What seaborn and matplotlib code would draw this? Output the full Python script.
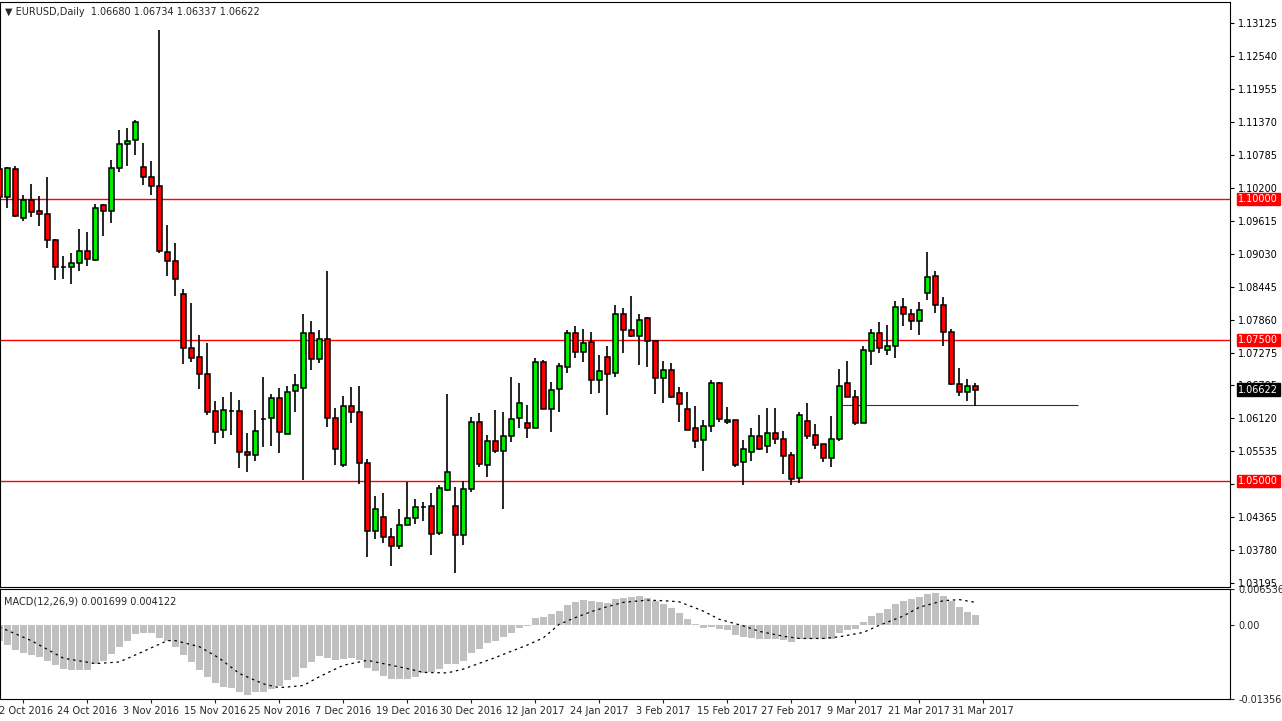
import numpy as np
import pandas as pd
import matplotlib
matplotlib.use("Agg")
import matplotlib.pyplot as plt
import seaborn as sns

sns.set_style("white")
plt.rcParams['font.family'] = ['DejaVu Sans']

opens = [1.10532,1.10035,1.10532,1.09663,1.09982,1.09787,1.09734,1.09273,1.08794,1.08794,
 1.08865,1.09078,1.08918,1.09894,1.09787,1.10550,1.10975,1.11046,1.10567,1.10390,
 1.10230,1.09060,1.08901,1.08316,1.07358,1.07199,1.06897,1.06241,1.05904,1.06245,
 1.06241,1.05514,1.05461,1.06105,1.06117,1.06472,1.05834,1.06596,1.06649,1.07624,
 1.07163,1.07518,1.06117,1.05284,1.06330,1.06224,1.05319,1.04114,1.04362,1.04007,
 1.03848,1.04220,1.04344,1.04545,1.04557,1.04078,1.04841,1.04557,1.04043,1.04858,
 1.06046,1.05284,1.05709,1.05532,1.05798,1.06117,1.06028,1.05940,1.07110,1.06277,
 1.06631,1.07021,1.07624,1.07287,1.07465,1.06791,1.07199,1.06915,1.07961,1.07677,
 1.07571,1.07890,1.07482,1.06826,1.06968,1.06560,1.06277,1.05940,1.05727,1.05975,
 1.06738,1.06046,1.06082,1.05337,1.05514,1.05798,1.05621,1.05851,1.05745,1.05461,
 1.05053,1.06064,1.05816,1.05656,1.05408,1.05745,1.06738,1.06489,1.06028,1.07305,
 1.07624,1.07323,1.07394,1.08085,1.07961,1.07837,1.08333,1.08635,1.08121,1.07642,
 1.06720,1.06578,1.06680]
highs = [1.10603,1.10567,1.10585,1.10071,1.10266,1.10053,1.10390,1.09291,1.08989,1.09043,
 1.09468,1.09415,1.09911,1.09911,1.10691,1.11223,1.11259,1.11401,1.10993,1.10674,
 1.12996,1.09539,1.09220,1.08404,1.08156,1.07589,1.07447,1.06419,1.06489,1.06578,
 1.06436,1.05851,1.06259,1.06844,1.06543,1.06649,1.06684,1.06897,1.07961,1.07837,
 1.07677,1.08723,1.06294,1.06507,1.06667,1.06684,1.05390,1.04734,1.04787,1.04167,
 1.04504,1.04982,1.04681,1.04628,1.04787,1.04929,1.06543,1.04894,1.05000,1.06135,
 1.06206,1.05816,1.06259,1.06224,1.06844,1.06738,1.06348,1.07181,1.07145,1.06755,
 1.07092,1.07677,1.07748,1.07695,1.07642,1.07234,1.07394,1.08121,1.08067,1.08280,
 1.07961,1.07908,1.07482,1.07128,1.07092,1.06667,1.06578,1.06330,1.06082,1.06791,
 1.06755,1.06312,1.06082,1.05727,1.05940,1.06170,1.06294,1.06294,1.05887,1.05514,
 1.06224,1.06383,1.06011,1.05656,1.06152,1.06986,1.07128,1.06614,1.07394,1.07695,
 1.07819,1.07766,1.08192,1.08245,1.08050,1.08174,1.09060,1.08723,1.08262,1.07695,
 1.07004,1.06809,1.06734]
lows = [1.09982,1.09840,1.09681,1.09610,1.09681,1.09521,1.09131,1.08564,1.08582,1.08493,
 1.08723,1.08812,1.08901,1.09344,1.09574,1.10479,1.10585,1.10780,1.10248,1.10071,
 1.09043,1.08635,1.08280,1.07075,1.07110,1.06631,1.06170,1.05656,1.05763,1.05816,
 1.05231,1.05160,1.05355,1.05603,1.05621,1.05497,1.05834,1.06224,1.05018,1.06968,
 1.07092,1.05958,1.05284,1.05248,1.06028,1.04947,1.03653,1.03972,1.03901,1.03493,
 1.03795,1.04220,1.04238,1.04291,1.03688,1.04043,1.04823,1.03369,1.03865,1.04805,
 1.05248,1.05071,1.05497,1.04504,1.05692,1.05940,1.05763,1.05940,1.06277,1.05869,
 1.06224,1.06915,1.07181,1.07110,1.06543,1.06560,1.06170,1.06844,1.07270,1.07553,
 1.07057,1.07021,1.06543,1.06383,1.06472,1.06046,1.05904,1.05585,1.05177,1.05869,
 1.06046,1.06011,1.05248,1.04929,1.05355,1.05550,1.05497,1.05656,1.05124,1.04929,
 1.04965,1.05745,1.05568,1.05337,1.05248,1.05709,1.06489,1.05993,1.06028,1.07057,
 1.07270,1.07234,1.07181,1.07748,1.07677,1.07589,1.08209,1.07979,1.07394,1.06702,
 1.06507,1.06419,1.06337]
closes = [1.10035,1.10550,1.09699,1.09982,1.09770,1.09734,1.09273,1.08794,1.08800,1.08865,
 1.09078,1.08936,1.09840,1.09787,1.10550,1.10975,1.11028,1.11365,1.10390,1.10230,
 1.09078,1.08901,1.08582,1.07358,1.07181,1.06897,1.06224,1.05869,1.06259,1.06241,
 1.05514,1.05461,1.05887,1.06099,1.06472,1.05869,1.06578,1.06702,1.07624,1.07163,
 1.07518,1.06117,1.05568,1.06330,1.06224,1.05319,1.04114,1.04504,1.04007,1.03848,
 1.04220,1.04344,1.04539,1.04539,1.04060,1.04876,1.05160,1.04043,1.04858,1.06046,
 1.05302,1.05709,1.05532,1.05798,1.06099,1.06383,1.05940,1.07110,1.06277,1.06614,
 1.07039,1.07624,1.07287,1.07447,1.06791,1.06950,1.06897,1.07961,1.07677,1.07571,
 1.07855,1.07482,1.06826,1.06968,1.06489,1.06365,1.05904,1.05709,1.05975,1.06738,
 1.06099,1.06082,1.05284,1.05568,1.05798,1.05568,1.05851,1.05745,1.05443,1.05036,
 1.06170,1.05798,1.05638,1.05408,1.05745,1.06684,1.06489,1.06028,1.07323,1.07624,
 1.07358,1.07394,1.08085,1.07961,1.07837,1.08032,1.08617,1.08121,1.07642,1.06720,
 1.06578,1.06684,1.06622]

macd_hist = [-0.00304,-0.00366,-0.00465,-0.00515,-0.00558,-0.00595,-0.00663,-0.00744,-0.00800,-0.00818,
 -0.00818,-0.00818,-0.00719,-0.00663,-0.00539,-0.00409,-0.00298,-0.00167,-0.00143,-0.00143,
 -0.00236,-0.00298,-0.00409,-0.00558,-0.00682,-0.00818,-0.00949,-0.01073,-0.01135,-0.01153,
 -0.01228,-0.01283,-0.01228,-0.01228,-0.01172,-0.01116,-0.01017,-0.00949,-0.00781,-0.00688,
 -0.00577,-0.00614,-0.00645,-0.00632,-0.00614,-0.00651,-0.00781,-0.00849,-0.00930,-0.00986,
 -0.00986,-0.00986,-0.00949,-0.00874,-0.00868,-0.00812,-0.00725,-0.00725,-0.00670,-0.00521,
 -0.00446,-0.00335,-0.00298,-0.00223,-0.00143,-0.00056,-0.00019,0.00130,0.00149,0.00205,
 0.00260,0.00353,0.00409,0.00446,0.00428,0.00409,0.00391,0.00465,0.00484,0.00502,
 0.00521,0.00496,0.00428,0.00372,0.00298,0.00223,0.00112,0.00019,-0.00056,-0.00037,
 -0.00074,-0.00093,-0.00186,-0.00223,-0.00242,-0.00260,-0.00260,-0.00260,-0.00279,-0.00316,
 -0.00260,-0.00260,-0.00260,-0.00260,-0.00260,-0.00149,-0.00093,-0.00074,0.00056,0.00167,
 0.00223,0.00279,0.00372,0.00428,0.00465,0.00502,0.00558,0.00577,0.00521,0.00428,
 0.00316,0.00242,0.00170]

signal_idx = [0,4,8,12,15,17.5,21,22,25,27.5,30,33,35,38,40,43,46,48,51,53,56,58,61.8,
 66,68,70,72,74,76,78,81,83,85,88,90,93,95,98,100,103,105,108,110,113,115,118,120,122]
signal_val = [-0.0004,-0.0029,-0.0061,-0.0071,-0.0068,-0.0052,-0.0029,-0.0029,-0.0040,-0.0061,
 -0.0089,-0.0108,-0.0115,-0.0111,-0.0095,-0.0074,-0.0065,-0.0071,-0.0080,-0.0087,-0.0088,
 -0.0081,-0.0061,-0.0037,-0.0024,0.0001,0.0013,0.0024,0.0033,0.0041,0.0045,0.0044,0.0042,
 0.0025,0.0010,-0.0002,-0.0012,-0.0021,-0.0025,-0.0025,-0.0022,-0.0014,-0.0001,0.0016,
 0.0032,0.0044,0.0046,0.0041]

date_labels = ["12 Oct 2016","24 Oct 2016","3 Nov 2016","15 Nov 2016","25 Nov 2016","7 Dec 2016",
 "19 Dec 2016","30 Dec 2016","12 Jan 2017","24 Jan 2017","3 Feb 2017","15 Feb 2017",
 "27 Feb 2017","9 Mar 2017","21 Mar 2017","31 Mar 2017"]
date_idx = [3 + 8*k for k in range(16)]

price_ticks = [1.13125,1.12540,1.11955,1.11370,1.10785,1.10200,1.09615,1.09030,1.08445,1.07860,
 1.07275,1.06705,1.06120,1.05535,1.04950,1.04365,1.03780,1.03195]
levels = [1.10000, 1.07500, 1.05000]
support_level = 1.0635
support_from, support_to = 105.1, 134.8

W, H = 1282, 721
fig = plt.figure(figsize=(W/100, H/100), dpi=100, facecolor='white')
ax = fig.add_axes([0, 1-587/H, 1230/W, 585/H])
axm = fig.add_axes([0, 1-699/H, 1230/W, 110/H])

df = pd.DataFrame(dict(o=opens, h=highs, l=lows, c=closes))
df['i'] = np.arange(len(df))
up = df['c'] >= df['o']

for lv in levels:
    ax.axhline(lv, color='#ff0000', lw=1, zorder=1)
ax.hlines(support_level, support_from, support_to, color='#333333', lw=0.8, zorder=1)

ax.vlines(df['i'], df['l'], df['h'], color='black', lw=1.2, zorder=2)
bott = np.minimum(df['o'], df['c'])
hgt = np.maximum(np.abs(df['c'] - df['o']), 0.00006)
ax.bar(df['i'], hgt, bottom=bott, width=0.62,
       color=np.where(up, '#00ee00', '#ff0000'), edgecolor='black', linewidth=1.1, zorder=3)

xmin, xmax = 0.0875, 153.84
ax.set_xlim(xmin, xmax)
ax.set_ylim(1.03121, 1.13493)
ax.yaxis.tick_right()
ax.set_yticks(price_ticks)
ax.set_yticklabels([f"{t:.5f}" for t in price_ticks], fontsize=7)
ax.tick_params(axis='y', length=3, pad=3, right=True, direction='out', colors='black')
ax.set_xticks([])
for s in ax.spines.values():
    s.set_color('black'); s.set_linewidth(0.8)

def tag(a, y, txt, bg):
    a.annotate(txt, xy=(1.0, y), xycoords=('axes fraction', 'data'), xytext=(6, 0),
               textcoords='offset points', va='center', ha='left', fontsize=7, color='white',
               bbox=dict(boxstyle='square,pad=0.15', fc=bg, ec=bg), annotation_clip=False)
for lv in levels:
    tag(ax, lv, f"{lv:.5f}", '#ff0000')
tag(ax, closes[-1], f"{closes[-1]:.5f}", 'black')

ax.text(0.004, 0.991, "\u25BC EURUSD,Daily  %.5f %.5f %.5f %.5f" % (opens[-1], highs[-1], lows[-1], closes[-1]),
        transform=ax.transAxes, fontsize=7, va='top', ha='left')

mdf = pd.DataFrame(dict(i=np.arange(len(macd_hist)), v=macd_hist))
sns.barplot(data=mdf, x='i', y='v', native_scale=True, color='#c0c0c0', saturation=1,
            width=0.82, ax=axm, edgecolor='none', linewidth=0)
axm.plot(signal_idx, signal_val, color='black', lw=0.9, ls=(0, (2, 3)))
axm.set_xlim(xmin, xmax)
axm.set_ylim(-0.013566, 0.006536)
axm.set_xlabel(''); axm.set_ylabel('')
axm.yaxis.tick_right()
axm.set_yticks([0.006536, 0.0, -0.013566])
axm.set_yticklabels(['0.006536', '0.00', '-0.013566'], fontsize=7)
axm.tick_params(axis='y', length=3, pad=3, right=True, direction='out')
axm.set_xticks(date_idx)
axm.set_xticklabels(date_labels, fontsize=7)
axm.tick_params(axis='x', length=3, pad=2, bottom=True, direction='out')
for s in axm.spines.values():
    s.set_color('black'); s.set_linewidth(0.8)
axm.text(0.003, 0.93, "MACD(12,26,9) 0.001699 0.004122", transform=axm.transAxes,
         fontsize=7, va='top', ha='left')

fig.savefig('out.png', dpi=100, facecolor='white')
